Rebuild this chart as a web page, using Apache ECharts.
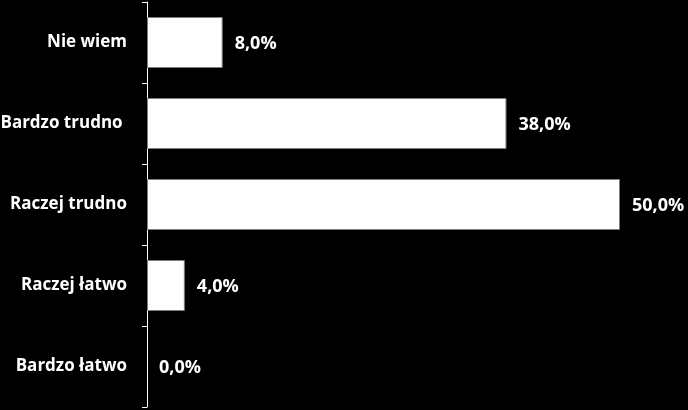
<!DOCTYPE html>
<html><head><meta charset="utf-8">
<script src="https://cdn.jsdelivr.net/npm/echarts@6/dist/echarts.min.js"></script>
<style>html,body{margin:0;padding:0;background:#000;}#c{width:688px;height:410px;}</style>
</head><body><div id="c"></div>
<script>
const categories = ["Bardzo łatwo", "Raczej łatwo", "Raczej trudno", "Bardzo trudno ", "Nie wiem"];
const values = [0, 4, 50, 38, 8];
const chart = echarts.init(document.getElementById('c'));
const font = '"Open Sans", sans-serif';
chart.setOption({
  backgroundColor: '#000',
  animation: false,
  grid: {left: 147, right: 68, top: 2, bottom: 3, containLabel: false, outerBoundsMode: 'none'},
  xAxis: {type: 'value', min: 0, max: 50, show: false},
  yAxis: {
    type: 'category', data: categories,
    axisLine: {show: true, lineStyle: {color: '#fff', width: 1}},
    axisTick: {show: true, length: 5, lineStyle: {color: '#fff'}},
    axisLabel: {color: '#fff', fontFamily: font, fontWeight: 'bold', fontSize: 17, margin: 20}
  },
  series: [{
    type: 'bar', barWidth: 51,
    data: values.map(v => ({value: v, itemStyle: {borderWidth: v > 0 ? 1 : 0}})),
    itemStyle: {color: '#fff', borderColor: '#7f7f7f'},
    label: {show: true, position: 'right', distance: 12, offset: [0, 1], color: '#fff', fontFamily: font, fontWeight: 'bold', fontSize: 18,
      formatter: p => p.value.toFixed(1).replace('.', ',') + '%'}
  }]
});
</script></body></html>
